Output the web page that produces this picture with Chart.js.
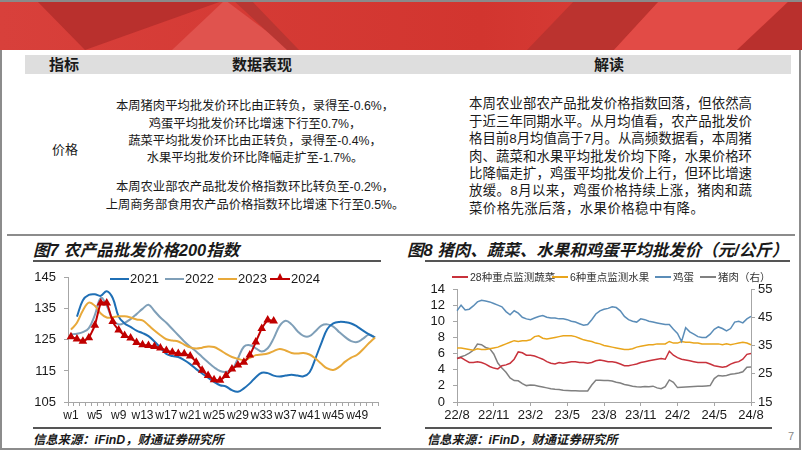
<!DOCTYPE html>
<html>
<head>
<meta charset="utf-8">
<script src="https://cdn.jsdelivr.net/npm/chart.js@4.4.1/dist/chart.umd.min.js"></script>
<style>
  html, body { margin: 0; padding: 0; background: #fff; }
  body { width: 802px; height: 451px; position: relative; overflow: hidden;
         font-family: "Liberation Sans", Arial, "Noto Sans CJK SC", sans-serif; color: #1a1a1a; }
  .abs { position: absolute; white-space: nowrap; }
  #banner { position: absolute; left: 0; top: 0; width: 802px; height: 50px; background: linear-gradient(90deg, #d8403b, #d2352f 60%, #dc4540); overflow: hidden; }
  #banner div { position: absolute; left: 0; top: 0; width: 802px; height: 50px; }
  .hline { position: absolute; height: 0; }
  .cjk { font-family: "Liberation Sans", "Noto Sans CJK SC", sans-serif; }
  .th { font-weight: bold; font-size: 15px; top: 56px; line-height: 18px; transform: translateX(-50%); }
  .mid { font-size: 12.3px; line-height: 16px; left: 105px; width: 300px; text-align: center; }
  .rt { font-size: 13.4px; line-height: 16px; left: 469px; width: 283px; text-align: justify; text-align-last: justify; }
  .title { font-weight: bold; font-style: italic; font-size: 16.5px; line-height: 20px; top: 240px; }
  .src { font-weight: bold; font-style: italic; font-size: 12.3px; line-height: 16px; top: 432px; }
  .leg { position: absolute; height: 16px; white-space: nowrap; }
  .leg span { position: absolute; top: 0; line-height: 16px; white-space: nowrap; }
  .leg i { position: absolute; top: 7px; height: 0; }
</style>
</head>
<body>
<div id="banner">
  <div style="background:#b9302d; clip-path: polygon(36px 0, 225px 0, 85px 50px);"></div>
  <div style="background:#e0534e; clip-path: polygon(225px 0, 292px 50px, 172px 50px);"></div>
  <div style="background:#b83632; clip-path: polygon(233px 0, 251px 0, 299px 50px, 287px 50px);"></div>
  <div style="background:#bb332f; clip-path: polygon(575px 0, 660px 0, 614px 50px, 527px 50px);"></div>
  <div style="background:#e24b46; clip-path: polygon(660px 0, 790px 0, 737px 50px, 614px 50px);"></div>
  <div style="background:#b9302d; clip-path: polygon(790px 0, 802px 0, 802px 50px, 737px 50px);"></div>
  <div style="background:#8a8a8a; height:2px;"></div>
</div>

<!-- table -->
<div class="abs" style="left:25px; top:55px; width:766px; height:19px; background:#dedede;"></div>
<div class="abs cjk th" style="left:64px;">指标</div>
<div class="abs cjk th" style="left:262px;">数据表现</div>
<div class="abs cjk th" style="left:609px;">解读</div>

<div class="abs cjk" style="left:52px; top:142px; font-size:13px; line-height:16px;">价格</div>

<div class="abs cjk mid" style="top:98px;">本周猪肉平均批发价环比由正转负，录得至-0.6%，</div>
<div class="abs cjk mid" style="top:116px;">鸡蛋平均批发价环比增速下行至0.7%，</div>
<div class="abs cjk mid" style="top:133px;">蔬菜平均批发价环比由正转负，录得至-0.4%，</div>
<div class="abs cjk mid" style="top:150px;">水果平均批发价环比降幅走扩至-1.7%。</div>
<div class="abs cjk mid" style="top:179px;">本周农业部农产品批发价格指数环比转负至-0.2%，</div>
<div class="abs cjk mid" style="top:197px;">上周商务部食用农产品价格指数环比增速下行至0.5%。</div>

<div class="abs cjk rt" style="top:96px;">本周农业部农产品批发价格指数回落，但依然高</div>
<div class="abs cjk rt" style="top:114px;">于近三年同期水平。从月均值看，农产品批发价</div>
<div class="abs cjk rt" style="top:131px;">格目前8月均值高于7月。从高频数据看，本周猪</div>
<div class="abs cjk rt" style="top:149px;">肉、蔬菜和水果平均批发价均下降，水果价格环</div>
<div class="abs cjk rt" style="top:166px;">比降幅走扩，鸡蛋平均批发价上行，但环比增速</div>
<div class="abs cjk rt" style="top:183px;">放缓。8月以来，鸡蛋价格持续上涨，猪肉和蔬</div>
<div class="abs cjk" style="left:469px; top:201px; font-size:13.4px; line-height:16px; letter-spacing:0.45px;">菜价格先涨后落，水果价格稳中有降。</div>

<!-- frames and rules -->
<div class="abs" style="left:0; top:50px; width:1px; height:400px; border-left:2px solid #8c8c8c;"></div>
<div class="abs" style="left:799px; top:50px; width:1px; height:400px; border-left:2px solid #8c8c8c;"></div>
<div class="hline" style="left:0; top:448px; width:801px; border-top:2px solid #8c8c8c;"></div>
<div class="hline" style="left:7px; top:234px; width:788px; border-top:2px solid #8c8c8c;"></div>
<div class="hline" style="left:33px; top:260px; width:348px; border-top:2px solid #555;"></div>
<div class="hline" style="left:425px; top:260px; width:365px; border-top:2px solid #555;"></div>
<div class="hline" style="left:33px; top:427px; width:348px; border-top:2px solid #555;"></div>
<div class="hline" style="left:425px; top:427px; width:347px; border-top:2px solid #555;"></div>

<div class="abs cjk title" style="left:33px;">图7 农产品批发价格200指数</div>
<div class="abs cjk title" style="left:407px;">图8 猪肉、蔬菜、水果和鸡蛋平均批发价（元/公斤）</div>
<div class="abs cjk src" style="left:33px;">信息来源：iFinD，财通证券研究所</div>
<div class="abs cjk src" style="left:427px;">信息来源：iFinD，财通证券研究所</div>
<div class="abs" style="left:788px; top:430px; font-size:11px; color:#888;">7</div>

<canvas id="indexChart" width="360" height="164" style="position:absolute; left:28px; top:262px;"></canvas>
<canvas id="priceChart" width="372" height="160" style="position:absolute; left:420px; top:266px;"></canvas>
<div id="legend1"></div>
<div id="legend2"></div>

<script>
// ---- 图7 data ----
const weeks = Array.from({ length: 52 }, (_, i) => 'w' + (i + 1));

const idx2021 = [null, 132.5, 137.8, 139.5, 139.7, 139.2, 140.7, 138.5, 132.5, 130.3,
  129.2, 128.0, 127.2, 126.2, 124.5, 122.5, 120.5, 119.8, 119.5, 118.5,
  117.2, 115.6, 114.2, 112.8, 111.5, 110.4, 110.0, 108.8, 108.3, 109.4,
  111.0, 113.0, 114.4, 114.3, 113.5, 113.2, 113.5, 113.8, 113.5, 113.3,
  114.5, 119.0, 124.0, 128.5, 130.3, 130.8, 130.7, 130.3, 129.3, 128.0,
  126.8, 125.7];

const idx2022 = [126.8, 127.0, 127.5, 128.8, 133.0, 138.5, 136.0, 131.5, 130.0, 130.5,
  131.7, 133.3, 135.0, 136.3, 134.3, 132.2, 130.5, 128.5, 126.5, 124.5,
  122.8, 121.3, 119.5, 117.8, 116.2, 115.0, 114.7, 115.3, 119.0, 122.8,
  123.3, 122.3, 121.3, 122.3, 125.5, 129.5, 131.2, 130.0, 127.8, 126.3,
  126.2, 127.8, 129.6, 130.0, 129.3, 127.5, 125.9, 124.6, 124.3, 125.4,
  126.7, 125.8];

const idx2023 = [128.3, 130.5, 134.5, 137.0, 136.0, 133.5, 132.2, 132.3, 132.6, 132.6,
  132.2, 131.6, 131.3, 129.7, 128.0, 126.5, 125.2, 124.8, 124.5, 123.5,
  122.6, 122.2, 122.5, 122.9, 122.7, 121.7, 120.5, 119.5, 118.9, 118.5,
  119.2, 120.1, 120.3, 120.6, 121.4, 122.1, 121.6, 120.8, 120.6, 120.8,
  120.3, 119.0, 117.3, 115.8, 115.3, 116.3, 118.0, 119.3, 120.2, 122.0,
  124.0, 125.8];

const idx2024 = [126.0, 125.3, 124.6, 125.7, 129.7, 136.9, 136.9, 130.9, 128.2, 126.4,
  125.6, 124.2, 123.4, 123.2, 122.9, 122.4, 121.6, 121.0, 120.6, 120.5,
  119.8, 117.8, 115.2, 113.5, 112.2, 112.0, 113.5, 115.6, 116.9, 117.8,
  120.1, 124.3, 128.7, 131.4, 131.1];

const yearLabels = ['2021', '2022', '2023', '2024'];
const yearColors = ['#1f6fb5', '#7f9fb8', '#e8a93a', '#c00000'];

// ---- 图8 data: one point every ~10 days, 2022/8/1 .. 2024/8/1 ----
const dates = [];
for (let k = 0; k <= 72; k++) {
  const m = 7 + Math.floor(k / 3);
  const yy = 22 + Math.floor(m / 12);
  dates.push(yy + '/' + (m % 12 + 1) + '/' + [1, 11, 21][k % 3]);
}

const vegetables = [5.4, 5.5, 5.2, 4.9, 4.9, 5.0, 4.9, 4.7, 4.4, 4.2, 4.1, 4.5,
  4.6, 4.8, 5.3, 6.2, 6.1, 5.8, 5.8, 5.7, 5.5, 5.3, 5.0, 4.8,
  4.7, 4.9, 4.8, 4.9, 5.0, 5.0, 4.9, 4.9, 4.8, 4.9, 5.1, 5.2,
  5.1, 5.0, 5.0, 4.9, 4.7, 4.5, 4.5, 4.6, 4.7, 4.9, 5.0, 5.1,
  5.2, 5.3, 5.4, 5.3, 6.3, 5.8, 5.5, 5.3, 5.2, 5.1, 5.0, 4.9,
  4.9, 4.9, 4.7, 4.5, 4.4, 4.3, 4.4, 4.7, 4.9, 5.0, 5.3, 5.9, 6.0];

const fruits = [6.7, 6.7, 6.6, 6.5, 6.4, 6.6, 6.5, 6.5, 6.6, 6.7, 6.8, 7.0,
  7.2, 7.4, 7.6, 7.5, 7.6, 7.6, 7.7, 8.1, 8.2, 7.9, 7.8, 7.9,
  8.0, 8.1, 8.2, 8.2, 8.2, 8.1, 7.9, 7.7, 7.6, 7.5, 7.3, 7.2,
  7.0, 6.9, 6.8, 6.7, 6.6, 6.5, 6.5, 6.6, 6.8, 6.9, 7.0, 7.1,
  7.1, 7.2, 7.2, 7.2, 7.5, 7.3, 7.3, 7.5, 7.4, 7.4, 7.3, 7.3,
  7.2, 7.2, 7.2, 7.2, 7.2, 7.1, 7.2, 7.1, 7.2, 7.3, 7.4, 7.3, 7.1];

const eggs = [11.3, 12.0, 11.4, 11.5, 11.9, 12.4, 12.6, 12.5, 12.4, 12.2, 12.0, 11.8,
  11.2, 10.8, 11.3, 11.0, 10.5, 10.3, 10.2, 10.4, 10.6, 10.7, 10.5, 10.4,
  10.4, 10.3, 10.3, 10.2, 10.0, 9.9, 9.7, 9.5, 9.6, 10.2, 10.9, 11.3,
  11.5, 11.6, 11.8, 11.7, 11.3, 10.6, 10.2, 10.0, 9.9, 10.3, 10.2, 10.0,
  9.9, 9.8, 9.7, 9.6, 9.6, 9.0, 8.5, 7.5, 9.2, 8.7, 8.4, 8.1,
  8.0, 8.0, 8.4, 9.0, 9.3, 9.1, 8.8, 9.1, 9.9, 10.0, 9.8, 10.3, 10.6];

const pork = [30.4, 31.0, 31.5, 32.3, 33.3, 35.5, 35.3, 34.3, 33.9, 32.0, 28.8, 27.0,
  25.5, 23.5, 22.6, 22.5, 21.5, 20.8, 21.0, 20.9, 20.6, 20.3, 20.0, 19.7,
  19.5, 19.4, 19.2, 19.1, 19.0, 19.0, 18.9, 18.9, 18.9, 21.0, 22.7, 22.7,
  22.6, 22.6, 22.4, 22.0, 21.7, 21.2, 20.9, 20.6, 20.4, 20.3, 20.5, 20.4,
  20.6, 20.0, 19.7, 20.4, 22.8, 22.0, 20.1, 20.2, 20.3, 20.4, 20.5, 20.6,
  20.6, 20.7, 20.8, 23.3, 24.4, 24.2, 24.4, 24.8, 25.0, 25.3, 25.7, 27.3, 27.4];

const priceLabels = ['28种重点监测蔬菜', '6种重点监测水果', '鸡蛋', '猪肉（右）'];
const priceColors = ['#c8323c', '#e9a51c', '#5b8db8', '#808080'];

Chart.defaults.font.family = '"Liberation Sans", Arial, sans-serif';
Chart.defaults.font.size = 13;
Chart.defaults.color = '#1a1a1a';

const axisGray = '#a6a6a6';

new Chart(document.getElementById('indexChart'), {
  type: 'line',
  data: {
    labels: weeks,
    datasets: [
      { label: yearLabels[0], data: idx2021, borderColor: yearColors[0], borderWidth: 2, pointRadius: 0, tension: 0.4, order: 2 },
      { label: yearLabels[1], data: idx2022, borderColor: yearColors[1], borderWidth: 2, pointRadius: 0, tension: 0.4, order: 3 },
      { label: yearLabels[2], data: idx2023, borderColor: yearColors[2], borderWidth: 2, pointRadius: 0, tension: 0.4, order: 1 },
      { label: yearLabels[3], data: idx2024, borderColor: yearColors[3], backgroundColor: yearColors[3], borderWidth: 2,
        pointStyle: 'triangle', pointRadius: 3, tension: 0.15, order: 0 }
    ]
  },
  options: {
    responsive: false,
    animation: false,
    layout: { padding: { top: 14, right: 10, left: 0, bottom: 0 } },
    plugins: { legend: { display: false }, tooltip: { enabled: false } },
    scales: {
      x: {
        offset: true,
        grid: { drawOnChartArea: false, tickLength: 4, color: axisGray, offset: true },
        border: { color: axisGray },
        ticks: { autoSkip: false, maxRotation: 0, padding: 2, font: { size: 12 },
          callback: (v, i) => (i % 4 === 0 ? weeks[i] : '') },
        afterFit: (s) => { s.height = 24; }
      },
      y: {
        min: 105, max: 145,
        grid: { drawOnChartArea: false, tickLength: 4, color: axisGray },
        border: { color: axisGray },
        ticks: { stepSize: 10, padding: 8, autoSkip: false },
        afterFit: (s) => { s.width = 40; }
      }
    }
  }
});

new Chart(document.getElementById('priceChart'), {
  type: 'line',
  data: {
    labels: dates,
    datasets: [
      { label: priceLabels[0], data: vegetables, borderColor: priceColors[0], yAxisID: 'y', borderWidth: 1.5, pointRadius: 0, order: 1 },
      { label: priceLabels[1], data: fruits, borderColor: priceColors[1], yAxisID: 'y', borderWidth: 1.5, pointRadius: 0, order: 2 },
      { label: priceLabels[2], data: eggs, borderColor: priceColors[2], yAxisID: 'y', borderWidth: 1.5, pointRadius: 0, order: 0 },
      { label: priceLabels[3], data: pork, borderColor: priceColors[3], yAxisID: 'y1', borderWidth: 1.5, pointRadius: 0, order: 3 }
    ]
  },
  options: {
    responsive: false,
    animation: false,
    layout: { padding: { top: 23, right: 0, left: 0, bottom: 0 } },
    plugins: { legend: { display: false }, tooltip: { enabled: false } },
    scales: {
      x: {
        offset: false,
        grid: { drawOnChartArea: false, tickLength: 4, color: axisGray },
        border: { color: axisGray },
        ticks: { autoSkip: false, maxRotation: 0, padding: 2,
          callback: (v, i) => (i % 9 === 0 ? dates[i].split('/').slice(0, 2).join('/') : null) },
        afterFit: (s) => { s.height = 24; }
      },
      y: {
        position: 'left', min: 0, max: 14,
        grid: { drawOnChartArea: false, tickLength: 4, color: axisGray },
        border: { color: axisGray },
        ticks: { stepSize: 2, padding: 8, autoSkip: false },
        afterFit: (s) => { s.width = 37; }
      },
      y1: {
        position: 'right', min: 15, max: 55,
        grid: { drawOnChartArea: false, tickLength: 4, color: axisGray },
        border: { color: axisGray },
        ticks: { stepSize: 10, padding: 3, autoSkip: false },
        afterFit: (s) => { s.width = 41; }
      }
    }
  }
});

// legends as html
function addLegend(hostId, labels, colors, spots, top, fontSize, marker) {
  const host = document.getElementById(hostId);
  labels.forEach((text, i) => {
    const [lineX, lineW, textX] = spots[i];
    const item = document.createElement('div');
    item.className = 'leg cjk';
    item.style.left = lineX + 'px';
    item.style.top = top + 'px';
    item.style.fontSize = fontSize + 'px';
    item.style.color = fontSize < 12 ? '#333' : '#1a1a1a';
    const ln = document.createElement('i');
    ln.style.left = '0px';
    ln.style.width = lineW + 'px';
    ln.style.borderTop = '2px solid ' + colors[i];
    item.appendChild(ln);
    if (marker === i) {
      const tri = document.createElement('i');
      tri.style.left = (lineW / 2 - 3.5) + 'px';
      tri.style.top = '2px';
      tri.style.borderLeft = '3.5px solid transparent';
      tri.style.borderRight = '3.5px solid transparent';
      tri.style.borderBottom = '6px solid ' + colors[i];
      item.appendChild(tri);
    }
    const sp = document.createElement('span');
    sp.style.left = (textX - lineX) + 'px';
    sp.textContent = text;
    item.appendChild(sp);
    host.appendChild(item);
  });
}

addLegend('legend1', yearLabels, yearColors,
  [[110, 19, 130], [165, 19, 185], [218, 19, 238], [270, 20, 291]], 271, 13, 3);
addLegend('legend2', priceLabels, priceColors,
  [[452, 16, 470], [552, 16, 570], [655, 16, 673], [700, 16, 718]], 269, 10.5, -1);
</script>
</body>
</html>
